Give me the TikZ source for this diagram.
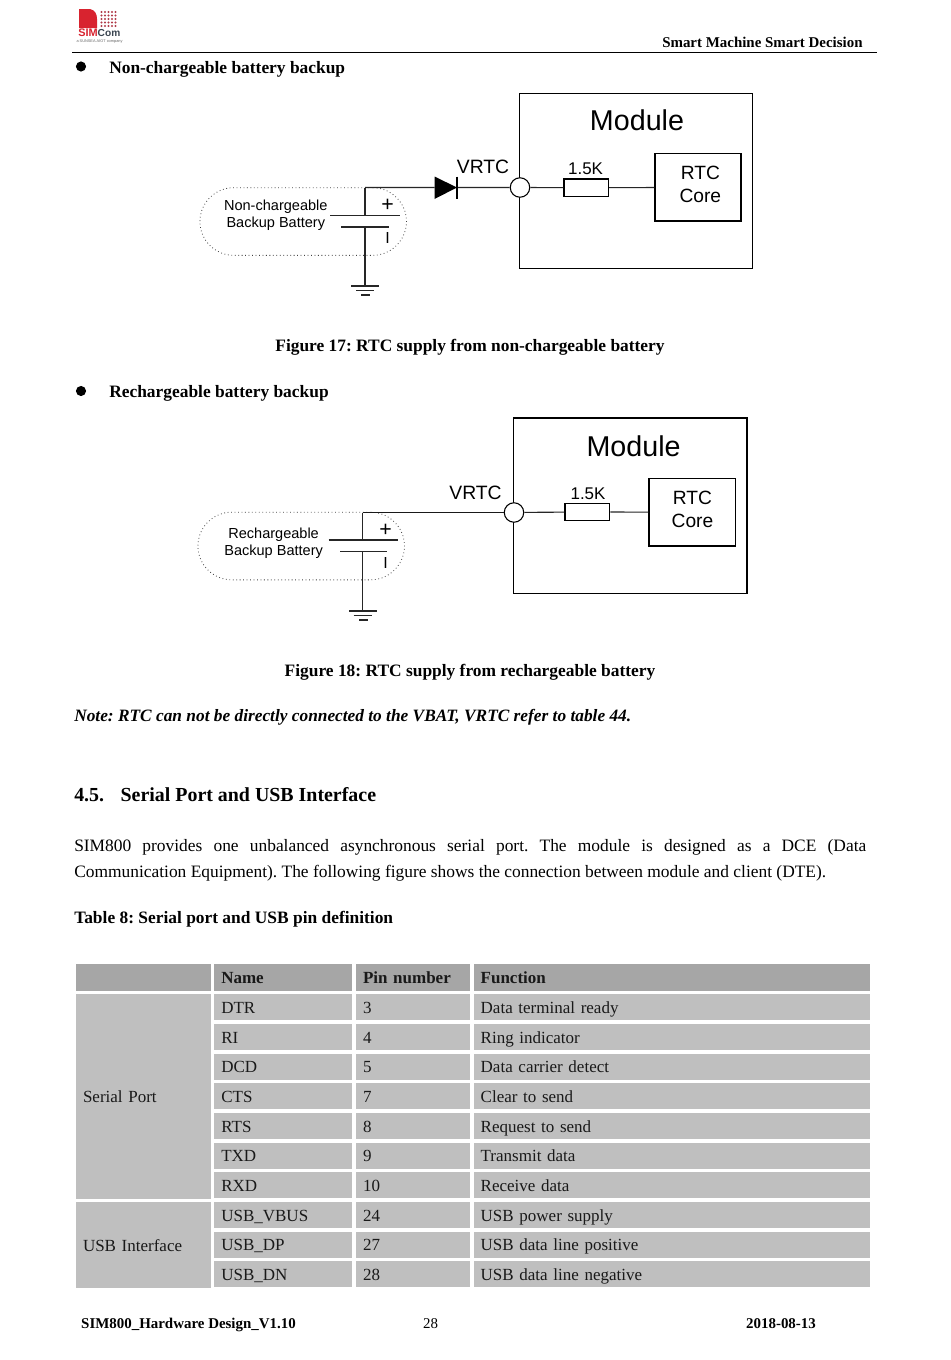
\documentclass[tikz,border=0pt]{standalone}
\usepackage{fontspec}
\setmainfont{Liberation Serif}
\newfontfamily\arialf{Liberation Sans}
\newcommand\fsz[1]{\fontsize{#1}{#1}\selectfont}
\newcommand\rectnode[6]{\node[#6,minimum width={(#4-#2)*0.75pt},minimum height={(#5-#3)*0.75pt}] (#1) at ({(#2+#4)/2},{(#3+#5)/2}) {};}
\newcommand\cellnode[7]{\node[tcell,fill=#6,minimum width={(#4-#2)*0.75pt},minimum height={(#5-#3)*0.75pt},text width={(#4-#2-14)*0.75pt}] (#1) at ({(#2+#4)/2},{(#3+#5)/2}) {#7};}
\tikzset{
  txt/.style={inner sep=0pt,anchor=base west,text=black},
  ctxt/.style={inner sep=0pt,anchor=base,text=black},
  body/.style={txt,font=\fsz{13.05}},
  bodyb/.style={txt,font=\fsz{13.05}\bfseries},
  capt/.style={ctxt,font=\fsz{13.05}\bfseries},
  foot/.style={ctxt,font=\fsz{11.2}\bfseries},
  lbl/.style={inner sep=0pt,text=black,font=\arialf\fsz{#1}},
  ebox/.style={draw=black,line width=0.85pt,inner sep=0pt},
  wire/.style={draw=black!85,line width=0.85pt},
  pin/.style={circle,draw=black,fill=white,line width=0.8pt,minimum size=14.6pt,inner sep=0pt},
  batt/.style={draw=black!75,dotted,line width=0.6pt,rounded corners=25.4pt,inner sep=0pt},
  tcell/.style={inner ysep=0pt,inner xsep=5.25pt,align=left,text height=11pt,text depth=1.8pt,font=\fsz{12.75},text=black!90},
  bull/.style={circle,fill=black,minimum size=7.6pt,inner sep=0pt},
}
\definecolor{hdrgray}{HTML}{A6A6A6}
\definecolor{rowgray}{HTML}{BFBFBF}
\definecolor{simred}{HTML}{D8232F}
\definecolor{simdot}{HTML}{B03A48}
\definecolor{comblue}{HTML}{3A4450}
\frenchspacing
\begin{document}
\begin{tikzpicture}[x=0.75pt,y=-0.75pt]
\useasboundingbox (0,0) rectangle (950,1360);
\fill[white] (0,0) rectangle (950,1360);
% logo
\fill[simred] (79,9) -- (90,9) .. controls (95,10) and (97,14) .. (97,19) -- (97,28) -- (79,28) -- cycle;
\foreach \r in {0,...,4}{\foreach \c in {0,...,4}{
  \fill[simdot] ({101.5+\c*3.5},{12+\r*3.5}) circle (1.1);}}
\node[inner sep=0pt,font=\arialf\fsz{8.2}\bfseries,text=simred] (logosim) at (88,32.6) {SIM};
\node[inner sep=0pt,font=\arialf\fsz{7.6}\bfseries,text=comblue] (logocom) at (109,32.6) {Com};
\node[inner sep=0pt,font=\arialf\fsz{2.9},text=black!60] (logosub) at (99.5,41.6) {a SUNSEA AIOT company};
% header
\node[txt,font=\fsz{11.2}\bfseries] (hdr) at (662,47) {Smart Machine Smart Decision};
\coordinate (rl) at (72,52.5); \coordinate (rr) at (877,52.5);
\draw[black,line width=0.8pt] (rl) -- (rr);
% first section
\node[bull] (b1) at (81,66.5) {};
\node[bodyb] (h1) at (109,73) {Non-chargeable battery backup};
% diagram 1
\rectnode{m1}{519.4}{93.3}{752.6}{268.3}{ebox}
\node[lbl=21.5] (m1t) at (637,120.5) {Module};
\rectnode{rc1}{655}{153.8}{741}{221}{ebox}
\node[lbl=14.4] (rc1a) at (700.3,172.5) {RTC};
\node[lbl=14.4] (rc1b) at (700.3,195.5) {Core};
\rectnode{r1}{564}{179}{608.6}{196.5}{ebox}
\node[lbl=12.7] (r1t) at (585.6,169) {1.5K};
\node[lbl=14.5] (v1) at (483,166.5) {VRTC};
\node[batt,minimum width={206.5*0.75pt},minimum height={67.7*0.75pt}] (bt1) at (303.2,221.5) {};
\node[lbl=10.9] (bt1a) at (275.8,206.3) {Non-chargeable};
\node[lbl=10.9] (bt1b) at (275.8,223.3) {Backup Battery};
\node[lbl=16] (bt1p) at (387.5,205) {+};
\node[lbl=12] (bt1m) at (387.5,238) {I};
\node[pin] (c1) at (520,187.5) {};
\coordinate (j1) at (365,187.5);
\coordinate (d1a) at (434.5,187.5); \coordinate (d1k) at (457,187.5);
\coordinate (p1a) at (365,215.5); \coordinate (p1b) at (365,227); \coordinate (g1) at (365,286);
\draw[wire] (j1) -- (d1a) (d1k) -- (c1) (c1) -- (r1) (r1) -- (rc1);
\draw[wire] (j1) -- (p1a) (p1b) -- (g1);
\fill[black] (434.5,176.5) -- (d1k) -- (434.5,199) -- cycle;
\draw[black,line width=0.85pt] (457,176.5) -- (457,199);
\draw[wire] (330,215.5) -- (400,215.5) (341,227) -- (388.5,227);
\draw[wire] (351,286) -- (379,286) (356,290.6) -- (374,290.6) (361,295) -- (370,295);
% caption
\node[capt] (f17) at (470,351.5) {Figure 17: RTC supply from non-chargeable battery};
\node[bull] (b2) at (81,391) {};
\node[bodyb] (h2) at (109,397.7) {Rechargeable battery backup};
% diagram 2
\rectnode{m2}{513.6}{418}{747}{593.3}{ebox}
\node[lbl=21.5] (m2t) at (633.6,446.5) {Module};
\rectnode{rc2}{649}{478.7}{735.4}{546}{ebox}
\node[lbl=14.4] (rc2a) at (692.5,497.5) {RTC};
\node[lbl=14.4] (rc2b) at (692.5,520.5) {Core};
\rectnode{r2}{565}{503.3}{609.8}{520.5}{ebox}
\node[lbl=12.7] (r2t) at (588,494) {1.5K};
\node[lbl=14.5] (v2) at (475.5,492.5) {VRTC};
\node[batt,minimum width={206.5*0.75pt},minimum height={67.7*0.75pt}] (bt2) at (301.2,546) {};
\node[lbl=10.9] (bt2a) at (273.6,534.3) {Rechargeable};
\node[lbl=10.9] (bt2b) at (273.6,551.3) {Backup Battery};
\node[lbl=16] (bt2p) at (385.6,530) {+};
\node[lbl=12] (bt2m) at (385.6,563) {I};
\node[pin] (c2) at (514,512.5) {};
\coordinate (j2) at (362.7,512.5);
\coordinate (p2a) at (362.7,540); \coordinate (p2b) at (362.7,551.7); \coordinate (g2) at (362.7,611);
\draw[draw=black!90,line width=1.1pt] (j2) -- (c2);
\draw[wire] (c2) -- (r2) (r2) -- (rc2);
\draw[wire] (j2) -- (p2a) (p2b) -- (g2);
\draw[wire] (328.5,540) -- (397.6,540) (340,551.7) -- (387,551.7);
\draw[wire] (349,611) -- (377,611) (353.6,615.6) -- (372,615.6) (359,620) -- (367.5,620);
% captions and text
\node[capt] (f18) at (470,676.5) {Figure 18: RTC supply from rechargeable battery};
\node[txt,font=\fsz{13}\bfseries\itshape] (note) at (74,721.7) {Note: RTC can not be directly connected to the VBAT, VRTC refer to table 44.};
\node[txt,font=\fsz{14.93}\bfseries] (sec) at (74,801.2) {4.5.\hspace{12.4pt}Serial Port and USB Interface};
\node[body] (p1) at (74,851.7) {\makebox[594pt][s]{SIM800 provides one unbalanced asynchronous serial port. The module is designed as a DCE (Data}};
\node[body] (p2) at (74,877.5) {Communication Equipment). The following figure shows the connection between module and client (DTE).};
\node[bodyb] (t8) at (74,923.7) {Table 8: Serial port and USB pin definition};
% table
\cellnode{h0}{76}{964.3}{210.7}{990.5}{hdrgray}{}
\cellnode{h1c}{214.3}{964.3}{352}{990.5}{hdrgray}{\bfseries Name}
\cellnode{h2c}{356}{964.3}{469.5}{990.5}{hdrgray}{\bfseries Pin number}
\cellnode{h3c}{473.7}{964.3}{870}{990.5}{hdrgray}{\bfseries Function}
\cellnode{sp}{76}{994.3}{210.7}{1198.5}{rowgray}{Serial Port}
\cellnode{usb}{76}{1202.2}{210.7}{1287.6}{rowgray}{USB Interface}
\foreach \i/\na/\pn/\fn in {0/DTR/3/Data terminal ready,1/RI/4/Ring indicator,2/DCD/5/Data carrier detect,3/CTS/7/Clear to send,4/RTS/8/Request to send,5/TXD/9/Transmit data,6/RXD/10/Receive data,7/USB\_VBUS/24/USB power supply,8/USB\_DP/27/USB data line positive,9/USB\_DN/28/USB data line negative}{
  \pgfmathsetmacro\ya{994.3+29.68*\i}
  \pgfmathsetmacro\yb{\ya+25.9}
  \cellnode{a\i}{214.3}{\ya}{352}{\yb}{rowgray}{\na}
  \cellnode{b\i}{356}{\ya}{469.5}{\yb}{rowgray}{\pn}
  \cellnode{c\i}{473.7}{\ya}{870}{\yb}{rowgray}{\fn}
}
% footer
\node[foot] (fa) at (188.5,1328) {SIM800\_Hardware Design\_V1.10};
\node[ctxt,font=\fsz{11.2}] (fb) at (430.5,1328) {28};
\node[foot] (fc) at (781,1328) {2018-08-13};
\end{tikzpicture}
\end{document}
